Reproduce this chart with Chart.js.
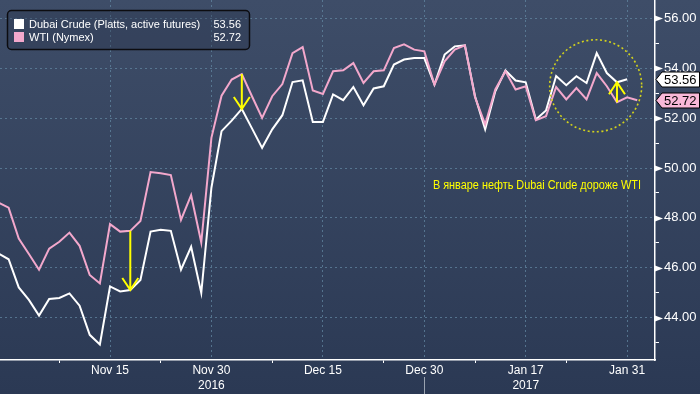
<!DOCTYPE html>
<html>
<head>
<meta charset="utf-8">
<script src="https://cdn.jsdelivr.net/npm/chart.js@4.4.1/dist/chart.umd.min.js"></script>
<style>
  html, body { margin: 0; padding: 0; background: #2c3a56; }
  #wrap { width: 700px; height: 394px; position: relative; }
</style>
</head>
<body>
<div id="wrap"><canvas id="chart"></canvas></div>
<script>
// trading days, Oct 31 2016 .. Feb 1 2017
const dates = [
    'Oct 31', 'Nov 1', 'Nov 2', 'Nov 3', 'Nov 4', 'Nov 7', 'Nov 8', 'Nov 9', 'Nov 10', 'Nov 11',
    'Nov 14', 'Nov 15', 'Nov 16', 'Nov 17', 'Nov 18', 'Nov 21', 'Nov 22', 'Nov 23', 'Nov 25', 'Nov 28',
    'Nov 29', 'Nov 30', 'Dec 1', 'Dec 2', 'Dec 5', 'Dec 6', 'Dec 7', 'Dec 8', 'Dec 9', 'Dec 12',
    'Dec 13', 'Dec 14', 'Dec 15', 'Dec 16', 'Dec 19', 'Dec 20', 'Dec 21', 'Dec 22', 'Dec 23', 'Dec 27',
    'Dec 28', 'Dec 29', 'Dec 30', 'Jan 3', 'Jan 4', 'Jan 5', 'Jan 6', 'Jan 9', 'Jan 10', 'Jan 11',
    'Jan 12', 'Jan 13', 'Jan 17', 'Jan 18', 'Jan 19', 'Jan 20', 'Jan 23', 'Jan 24', 'Jan 25', 'Jan 26',
    'Jan 27', 'Jan 30', 'Jan 31', 'Feb 1'
];

const dubai = [
    46.57, 46.34, 45.21, 44.71, 44.08, 44.75, 44.79, 44.97, 44.48, 43.31,
    42.92, 45.25, 45.05, 45.11, 45.51, 47.45, 47.52, 47.48, 45.92, 46.84,
    44.99, 49.21, 51.48, 51.90, 52.37, 51.59, 50.81, 51.55, 52.12, 53.45,
    53.52, 51.85, 51.85, 52.95, 52.72, 53.25, 52.52, 53.19, 53.28, 54.15,
    54.35, 54.41, 54.41, 53.35, 54.55, 54.88, 54.92, 52.88, 51.55, 53.08,
    53.91, 53.51, 53.44, 51.95, 52.31, 53.69, 53.32, 53.68, 53.41, 54.61,
    53.81, 53.44, 53.56
];

const wti = [
    48.61, 48.41, 47.17, 46.55, 45.92, 46.77, 47.04, 47.41, 46.88, 45.71,
    45.37, 47.75, 47.45, 47.48, 47.88, 49.84, 49.79, 49.72, 47.92, 48.91,
    47.01, 51.21, 52.90, 53.55, 53.77, 52.88, 52.01, 52.88, 53.37, 54.61,
    54.85, 53.11, 52.97, 53.88, 53.92, 54.21, 53.41, 53.88, 53.92, 54.81,
    54.96, 54.75, 54.68, 53.35, 54.28, 54.75, 54.92, 52.84, 51.75, 53.15,
    53.88, 53.15, 53.28, 51.92, 52.08, 53.25, 52.75, 53.21, 52.75, 53.81,
    53.28, 52.64, 52.84, 52.72
];

const seriesNames = ['Dubai Crude (Platts, active futures)', 'WTI (Nymex)'];

// axis ticks (indices into dates)
const xMajor = [11, 21, 32, 42, 52, 62];
const xMinor = [6, 16, 27, 38, 47, 56];
const yearLabels = { 21: '2016', 52: '2017' };
const yearBreak = 42;
const yMajor = [44, 46, 48, 50, 52, 54, 56];
const yMinor = [43, 45, 47, 49, 51, 53, 55];

// annotations
const arrowDays = [13, 24, 61];
const noteText = 'В январе нефть Dubai Crude дороже WTI';
const noteAt = { x: 42.85, y: 49.3 };
const ringAt = { x: 58.9, y: 53.3 };

const WHITE = '#ffffff';
const PINK = '#f3a8cc';
const YELLOW = '#ffff00';
const GRID = 'rgba(98, 134, 160, 0.75)';
const FONT = '"Liberation Sans", Arial, sans-serif';

const toPoints = arr => arr.map((v, i) => ({ x: i, y: v }));

const backgroundPlugin = {
    id: 'bg',
    beforeDraw(chart) {
        const { ctx, width, height } = chart;
        const g = ctx.createLinearGradient(0, 0, 0, height);
        g.addColorStop(0, '#3e4d68');
        g.addColorStop(1, '#2b3954');
        ctx.save();
        ctx.fillStyle = g;
        ctx.fillRect(0, 0, width, height);
        ctx.restore();
    }
};

const notesPlugin = {
    id: 'notes',
    afterDatasetsDraw(chart) {
        const { ctx } = chart;
        const xs = chart.scales.x, ys = chart.scales.y;
        ctx.save();

        // arrows from WTI to Dubai
        ctx.strokeStyle = YELLOW;
        ctx.lineWidth = 2;
        arrowDays.forEach(i => {
            const x = xs.getPixelForValue(i);
            const y0 = ys.getPixelForValue(wti[i]);
            const y1 = ys.getPixelForValue(dubai[i]);
            const dir = y1 > y0 ? 1 : -1;
            ctx.beginPath();
            ctx.moveTo(x, y0);
            ctx.lineTo(x, y1);
            ctx.moveTo(x - 8, y1 - 12 * dir);
            ctx.lineTo(x, y1);
            ctx.lineTo(x + 8, y1 - 12 * dir);
            ctx.stroke();
        });

        // dotted ring
        ctx.strokeStyle = '#d2d21c';
        ctx.lineWidth = 1.6;
        ctx.setLineDash([2, 2.6]);
        ctx.beginPath();
        ctx.arc(xs.getPixelForValue(ringAt.x), ys.getPixelForValue(ringAt.y), 46, 0, Math.PI * 2);
        ctx.stroke();
        ctx.setLineDash([]);

        // note
        ctx.fillStyle = YELLOW;
        ctx.font = '12px ' + FONT;
        ctx.textBaseline = 'middle';
        const tx = xs.getPixelForValue(noteAt.x), ty = ys.getPixelForValue(noteAt.y);
        const w = ctx.measureText(noteText).width;
        ctx.translate(tx, ty);
        ctx.scale(208 / w, 1);
        ctx.fillText(noteText, 0, 0);
        ctx.restore();
    },
    afterDraw(chart) {
        const { ctx } = chart;
        const xs = chart.scales.x, ys = chart.scales.y;
        const area = chart.chartArea;
        ctx.save();

        // triangle marks on major y ticks
        ctx.fillStyle = WHITE;
        yMajor.forEach(v => {
            const y = Math.round(ys.getPixelForValue(v)) + 0.5;
            ctx.beginPath();
            ctx.moveTo(area.right, y - 3);
            ctx.lineTo(area.right + 8, y);
            ctx.lineTo(area.right, y + 3);
            ctx.closePath();
            ctx.fill();
        });

        // year separator
        const bx = Math.round(xs.getPixelForValue(yearBreak)) + 0.5;
        ctx.strokeStyle = '#9aa3b0';
        ctx.lineWidth = 1;
        ctx.beginPath();
        ctx.moveTo(bx, area.bottom + 17);
        ctx.lineTo(bx, chart.height);
        ctx.stroke();

        // legend box
        ctx.fillStyle = 'rgba(40, 52, 75, 0.35)';
        ctx.strokeStyle = '#0c0c10';
        ctx.lineWidth = 1.5;
        ctx.beginPath();
        ctx.roundRect(7.5, 10.5, 242, 39, 4);
        ctx.fill();
        ctx.stroke();
        ctx.font = '11px ' + FONT;
        ctx.textBaseline = 'middle';
        [[seriesNames[0], dubai, WHITE], [seriesNames[1], wti, PINK]].forEach((row, k) => {
            const cy = 24 + k * 13;
            ctx.fillStyle = row[2];
            ctx.fillRect(14, cy - 5, 10, 10);
            ctx.fillStyle = WHITE;
            ctx.textAlign = 'left';
            ctx.fillText(row[0], 29, cy + 0.5);
            ctx.textAlign = 'right';
            ctx.fillText(row[1][row[1].length - 1].toFixed(2), 241, cy + 0.5);
        });

        // last-value tags on the right axis
        ctx.font = '13px ' + FONT;
        ctx.textAlign = 'left';
        [[dubai, WHITE], [wti, '#f9b8d8']].forEach(([arr, fill]) => {
            const v = arr[arr.length - 1];
            const y = Math.round(ys.getPixelForValue(v)) + 0.5;
            const l = area.right + 1;
            ctx.beginPath();
            ctx.moveTo(l, y);
            ctx.lineTo(l + 6, y - 7.5);
            ctx.lineTo(chart.width - 0.5, y - 7.5);
            ctx.lineTo(chart.width - 0.5, y + 7.5);
            ctx.lineTo(l + 6, y + 7.5);
            ctx.closePath();
            ctx.fillStyle = fill;
            ctx.fill();
            ctx.strokeStyle = '#000';
            ctx.lineWidth = 1;
            ctx.stroke();
            ctx.fillStyle = '#000';
            ctx.fillText(v.toFixed(2), l + 8, y + 0.5);
        });
        ctx.restore();
    }
};

new Chart(document.getElementById('chart'), {
    type: 'line',
    data: {
        datasets: [
            { label: seriesNames[0], data: toPoints(dubai), borderColor: WHITE, borderWidth: 2, pointRadius: 0, tension: 0, order: 1 },
            { label: seriesNames[1], data: toPoints(wti), borderColor: PINK, borderWidth: 2, pointRadius: 0, tension: 0, order: 0 }
        ]
    },
    options: {
        responsive: true, maintainAspectRatio: false, animation: false, devicePixelRatio: 1,
        layout: { padding: 0 },
        scales: {
            x: {
                type: 'linear', position: 'bottom', min: 0.15, max: 64.75,
                afterBuildTicks: (s) => { s.ticks = xMajor.concat(xMinor).sort((a, b) => a - b).map(v => ({ value: v })); },
                afterFit: (s) => { s.height = 34; s.paddingLeft = 0; s.paddingRight = 0; },
                ticks: {
                    autoSkip: false, maxRotation: 0, padding: 0, color: WHITE,
                    font: { family: FONT, size: 12, lineHeight: 1.25 },
                    callback: (v) => {
                        if (!xMajor.includes(v)) return '';
                        return yearLabels[v] ? [dates[v], yearLabels[v]] : dates[v];
                    }
                },
                grid: {
                    color: (c) => c.tick && xMajor.includes(c.tick.value) ? GRID : 'transparent',
                    tickColor: (c) => c.tick && xMajor.includes(c.tick.value) ? 'transparent' : WHITE,
                    tickLength: 3
                },
                border: { color: WHITE, width: 1.5, dash: [2, 3] }
            },
            y: {
                type: 'linear', position: 'right', min: 42.3, max: 56.74,
                afterBuildTicks: (s) => { s.ticks = yMajor.concat(yMinor).sort((a, b) => a - b).map(v => ({ value: v })); },
                afterFit: (s) => { s.width = 45; s.paddingTop = 0; s.paddingBottom = 0; },
                ticks: {
                    padding: 5, color: WHITE,
                    font: { family: FONT, size: 13 },
                    callback: (v) => yMajor.includes(v) ? v.toFixed(2) : ''
                },
                grid: {
                    color: (c) => c.tick && yMajor.includes(c.tick.value) ? GRID : 'transparent',
                    tickColor: WHITE,
                    tickLength: 4
                },
                border: { color: WHITE, width: 1.5, dash: [2, 3] }
            }
        },
        plugins: { legend: { display: false }, tooltip: { enabled: false } }
    },
    plugins: [backgroundPlugin, notesPlugin]
});
</script>
</body>
</html>
